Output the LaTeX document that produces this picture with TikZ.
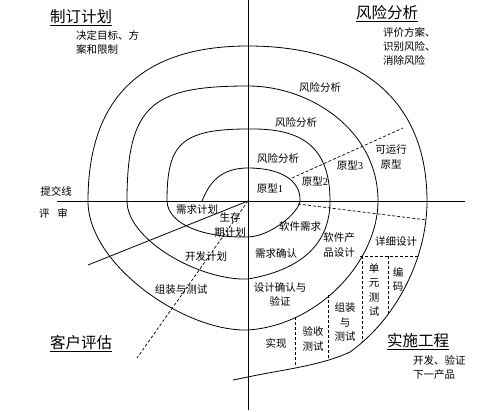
\documentclass[tikz,border=0pt]{standalone}
\usepackage{fontspec}
\setmainfont{Liberation Serif}
\newfontfamily\cjk{Noto Sans CJK SC}
\tikzset{
  curve/.style={line width=0.8pt},
  axis/.style={line width=0.8pt},
  dsh/.style={line width=0.7pt, dash pattern=on 3pt off 2pt},
  lbl/.style={font=\cjk\fontsize{10.5}{14.5}\selectfont, inner sep=0pt, align=center},
  note/.style={font=\cjk\fontsize{10.5}{14}\selectfont, inner sep=0pt, align=left},
  ttl/.style={font=\cjk\fontsize{15.5}{18}\selectfont, inner sep=0pt},
  uline/.style={line width=0.6pt}
}
\begin{document}
\begin{tikzpicture}[x=1pt,y=-1pt]
\useasboundingbox (0,0) rectangle (482,412);
% key coordinates
\coordinate (O) at (248,201);
\coordinate (Vt) at (248,0);
\coordinate (Vb) at (248,410);
\coordinate (Hl) at (57,201);
\coordinate (Hr) at (465,201);
% axes
\draw[axis] (Vt) -- (Vb);
\draw[axis] (Hl) -- (Hr);
% spiral
\draw[curve] (202,201) .. controls (207,190) and (215,168) .. (248,168)
 .. controls (280,168) and (301,180) .. (300,201)
 .. controls (299,212) and (272,236) .. (248,237)
 .. controls (205,238) and (168,225) .. (167,201)
 .. controls (167,145) and (180,129) .. (248,129)
 .. controls (300,128) and (330,145) .. (330,201)
 .. controls (330,245) and (300,270) .. (248,279)
 .. controls (200,281) and (127,240) .. (127,201)
 .. controls (127,105) and (152,86) .. (248,86)
 .. controls (310,86) and (378,130) .. (378,201)
 .. controls (378,260) and (320,325) .. (248,330)
 .. controls (185,332) and (88,265) .. (88,201)
 .. controls (88,100) and (140,46) .. (248,46)
 .. controls (360,46) and (427,100) .. (427,201)
 .. controls (427,260) and (395,320) .. (350,352)
 .. controls (320,366) and (280,370) .. (248,377)
 -- (233,380);
% review line
\coordinate (Rv) at (88,265);
\draw[curve] (O) -- (Rv);
% dashed lines
\coordinate (D1a) at (292,178); \coordinate (D1b) at (403,128);
\coordinate (D2a) at (298,204); \coordinate (D2b) at (427,220);
\coordinate (D3a) at (360,256); \coordinate (D3b) at (418,256);
\coordinate (D4b) at (362,342);
\coordinate (D5a) at (388,256); \coordinate (D5b) at (388,315);
\coordinate (D6a) at (328,295); \coordinate (D6b) at (328,360);
\coordinate (D7a) at (295,317); \coordinate (D7b) at (295,367);
\coordinate (D8b) at (137,358);
\draw[dsh] (D1a) -- (D1b);
\draw[dsh] (D2a) -- (D2b);
\draw[dsh] (D3a) -- (D3b);
\draw[dsh] (362,256) -- (D4b);
\draw[dsh] (D5a) -- (D5b);
\draw[dsh] (D6a) -- (D6b);
\draw[dsh] (D7a) -- (D7b);
\draw[dsh] (O) -- (D8b);
% titles
\node[ttl] (t1) at (81,17) {制订计划};
\draw[uline] ([yshift=-2.5pt]t1.base west) -- ([yshift=-2.5pt]t1.base east);
\node[ttl] (t2) at (387,13) {风险分析};
\draw[uline] ([yshift=-2.5pt]t2.base west) -- ([yshift=-2.5pt]t2.base east);
\node[ttl] (t3) at (81,343) {客户评估};
\draw[uline] ([yshift=-2.5pt]t3.base west) -- ([yshift=-2.5pt]t3.base east);
\node[ttl] (t4) at (418,341) {实施工程};
\draw[uline] ([yshift=-2.5pt]t4.base west) -- ([yshift=-2.5pt]t4.base east);
% notes
\node[note, anchor=west] (n1) at (76,42.5) {决定目标、方\\案和限制};
\node[note, anchor=west] (n2) at (383,46) {评价方案、\\识别风险、\\消除风险};
\node[note, anchor=west] (n3) at (413,367.5) {开发、验证\\下一产品};
\node[lbl] (sub) at (56,191) {提交线};
\node[lbl] (rev) at (53.5,213) {评\hspace{8pt}审};
% labels
\node[lbl] (r4) at (320,87) {风险分析};
\node[lbl] (r3) at (296,122) {风险分析};
\node[lbl] (r2) at (278,158) {风险分析};
\node[lbl] (p1) at (270,189) {原型\fontspec{Liberation Serif}1};
\node[lbl] (p2) at (315,182) {原型\fontspec{Liberation Serif}2};
\node[lbl] (p3) at (350,166) {原型\fontspec{Liberation Serif}3};
\node[lbl] (p4) at (391,157) {可运行\\原型};
\node[lbl] (q1) at (197,210) {需求计划};
\node[lbl] (q2) at (230,225) {生存\\期计划};
\node[lbl] (q3) at (206,257) {开发计划};
\node[lbl] (q4) at (181,290) {组装与测试};
\node[lbl] (s1) at (300,227) {软件需求};
\node[lbl] (s2) at (276,254) {需求确认};
\node[lbl] (s3) at (339,245) {软件产\\品设计};
\node[lbl] (s4) at (396,242) {详细设计};
\node[lbl] (s5) at (280,294.5) {设计确认与\\验证};
\node[lbl] (s6) at (374,290) {单\\元\\测\\试};
\node[lbl] (s7) at (398,279.5) {编\\码};
\node[lbl] (s8) at (345,322) {组装\\与\\测试};
\node[lbl] (s9) at (313,339) {验收\\测试};
\node[lbl] (s10) at (276,343) {实现};
\end{tikzpicture}
\end{document}
